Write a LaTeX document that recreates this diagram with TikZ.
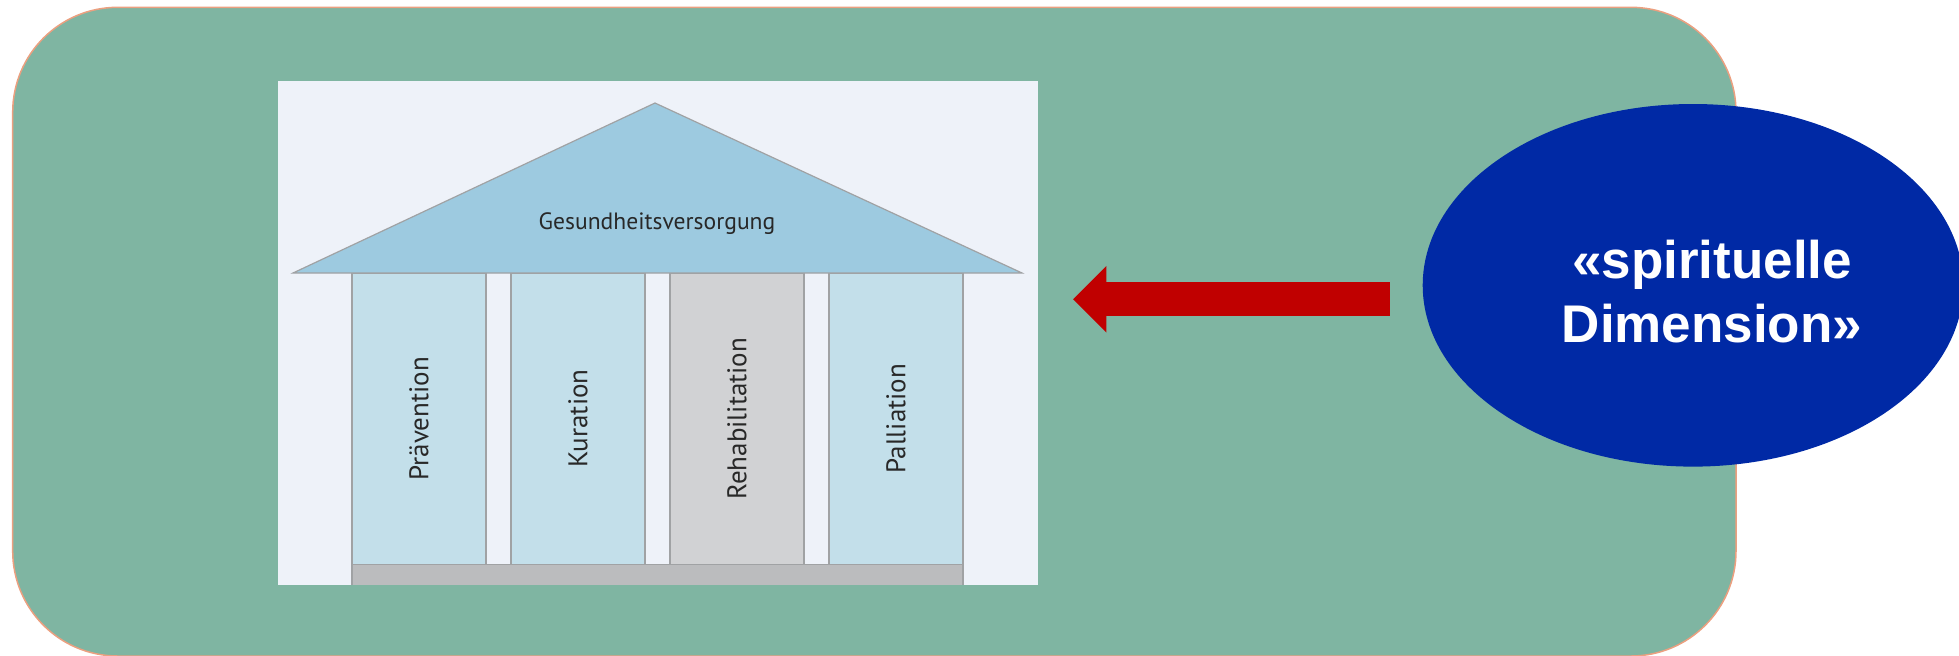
\documentclass[tikz,border=0pt]{standalone}
\usepackage{fontspec}
\setmainfont{Liberation Sans}
\newfontfamily\housefont{PT Sans}
\usetikzlibrary{arrows.meta,shapes.geometric}

\definecolor{panelgreen}{RGB}{127,181,162}
\definecolor{panelline}{RGB}{235,160,128}
\definecolor{housebg}{RGB}{238,242,249}
\definecolor{roofblue}{RGB}{157,202,224}
\definecolor{pillarblue}{RGB}{195,223,234}
\definecolor{pillargray}{RGB}{209,210,212}
\definecolor{basegray}{RGB}{187,188,190}
\definecolor{houseline}{RGB}{160,162,164}
\definecolor{housetext}{RGB}{40,40,40}
\definecolor{arrowred}{RGB}{192,0,0}
\definecolor{spiritblue}{RGB}{0,41,165}

\tikzset{
  panel/.style={draw=panelline, line width=0.75pt, fill=panelgreen, rounded corners=52.5pt},
  houselabel/.style={font=\housefont\fontsize{13.5}{16}\selectfont, text=housetext, inner sep=0pt},
  pillar/.style={houselabel, draw=houseline, line width=0.6pt, rotate=90,
    minimum width=145.5pt, minimum height=67pt},
  bigarrow/.style={draw=arrowred, line width=16.85pt,
    -{Triangle[length=16.65pt,width=33.35pt,line width=0pt]}},
}

\begin{document}
\begin{tikzpicture}[x=0.5pt,y=-0.5pt]
	\useasboundingbox (0,0) rectangle (1959,655);

	% Background panel
	\draw[panel] (12.7,7.3) rectangle (1736,656);

	% House picture
	\node[fill=housebg, minimum width=380pt, minimum height=252pt, inner sep=0pt] (house) at (658,333) {};

	% Roof
	\draw[houseline, line width=0.6pt, fill=roofblue] (293,273) -- (655,103) -- (1022,273) -- cycle;
	\node[houselabel, font=\housefont\fontsize{11.8}{14}\selectfont] (roof) at (657,224) {Gesundheitsversorgung};

	% Pillars
	\foreach \x/\lbl/\col [count=\i] in {419/Prävention/pillarblue, 578/Kuration/pillarblue,
	    737/Rehabilitation/pillargray, 896/Palliation/pillarblue}
		\node[pillar, fill=\col] (pillar\i) at (\x,418.7) {\lbl};

	% Base (cut off at the bottom)
	\fill[basegray] (352,564.3) rectangle (963,585);
	\draw[houseline, line width=0.6pt] (352,585) -- (352,564.3) -- (963,564.3) -- (963,585);

	% Spiritual dimension
	\node[ellipse, fill=spiritblue, minimum width=270.3pt, minimum height=181.3pt, inner sep=0pt] (spirit) at (1693,285.3) {};
	\node[font=\bfseries\fontsize{26.5}{32}\selectfont, text=white, align=center] (spirittext) at (1712,292) {«spirituelle\\Dimension»};

	% Arrow towards the house
	\coordinate (arrowtail) at ([xshift=-16.35pt,yshift=-7pt]spirit.west);
	\draw[bigarrow, shorten >=17.35pt] (arrowtail) -- (arrowtail -| house.east);
\end{tikzpicture}
\end{document}
